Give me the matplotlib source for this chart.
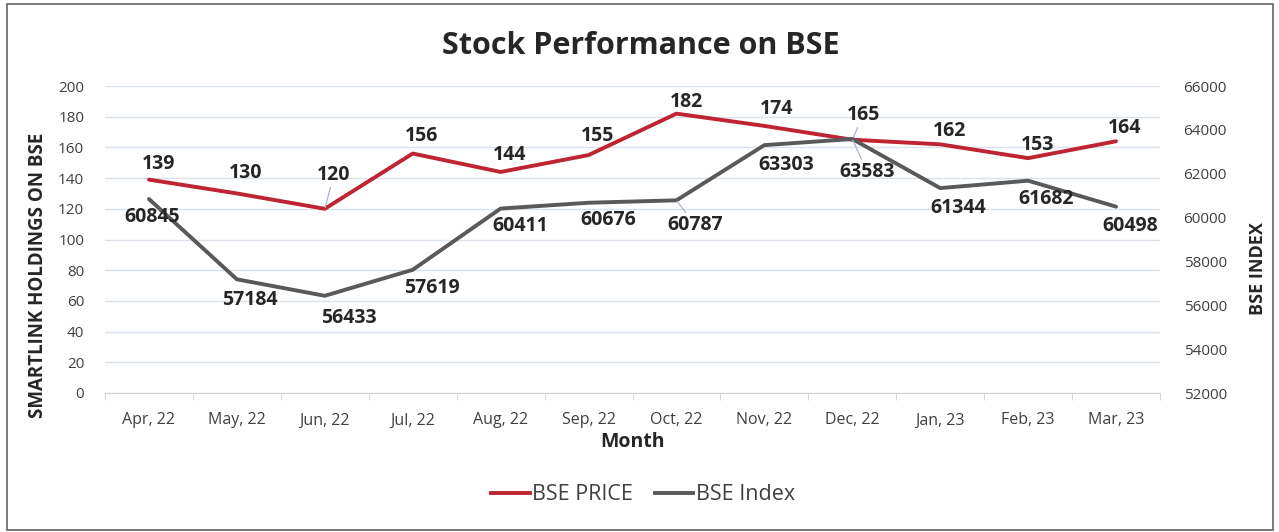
import matplotlib
matplotlib.use("Agg")
import matplotlib.pyplot as plt
from matplotlib.patches import Rectangle
from matplotlib.ticker import MultipleLocator, FixedLocator

plt.rcParams['font.family'] = ['Open Sans', 'DejaVu Sans']

months = ["Apr, 22", "May, 22", "Jun, 22", "Jul, 22", "Aug, 22", "Sep, 22",
          "Oct, 22", "Nov, 22", "Dec, 22", "Jan, 23", "Feb, 23", "Mar, 23"]
bse_price = [139, 130, 120, 156, 144, 155, 182, 174, 165, 162, 153, 164]
bse_index = [60845, 57184, 56433, 57619, 60411, 60676, 60787, 63303, 63583, 61344, 61682, 60498]

# label offsets in pixels (layout only)
price_off = [(10, 16), (9, 20), (9, 34), (9, 18), (9, 17), (9, 19),
             (10, 12), (12, 17), (11, 25), (9, 13), (9, 13), (9, 13)]
index_off = [(3, -18), (13, -21), (24, -22), (19, -18), (20, -17), (20, -17),
             (19, -25), (22, -20), (15, -33), (18, -20), (18, -18), (14, -19)]
price_leader = {2, 8}
index_leader = {6, 8}

RED = "#BE2432"
GREY = "#595959"
GRID = "#D9E1EA"
TXT = "#262626"

fig = plt.figure(figsize=(12.79, 5.32), dpi=100)
fig.patches.append(Rectangle((7 / 1279, 1 - 530 / 532), 1266 / 1279, 526 / 532,
                             transform=fig.transFigure, fill=False,
                             edgecolor="#6E6E6E", lw=1.3))

ax = fig.add_axes([105 / 1279, 1 - 393 / 532, 1055 / 1279, 307 / 532])
ax2 = ax.twinx()

x = list(range(len(months)))
ax.plot(x, bse_price, color=RED, lw=2.8, solid_capstyle='round', zorder=3)
ax2.plot(x, bse_index, color=GREY, lw=2.8, solid_capstyle='round', zorder=3)

ax.set_xlim(-0.5, len(months) - 0.5)
ax.set_ylim(0, 200)
ax2.set_ylim(52000, 66000)
ax.yaxis.set_major_locator(MultipleLocator(20))
ax2.yaxis.set_major_locator(MultipleLocator(2000))
ax.grid(axis='y', color=GRID, lw=1.0)
ax.set_axisbelow(True)

for a in (ax, ax2):
    for s in a.spines.values():
        s.set_visible(False)
ax.spines['bottom'].set_visible(True)
ax.spines['bottom'].set_color("#D0D0D0")

ax.set_xticks(x)
ax.set_xticklabels(months)
ax.xaxis.set_minor_locator(FixedLocator([i - 0.5 for i in range(len(months) + 1)]))
ax.tick_params(axis='x', which='major', length=0, pad=14, labelsize=11.5, labelcolor="#404040")
ax.tick_params(axis='x', which='minor', length=5, color="#D0D0D0", direction='out')
ax.tick_params(axis='y', length=0, pad=15, labelsize=11, labelcolor="#404040")
ax2.tick_params(axis='y', length=0, pad=17, labelsize=11, labelcolor="#404040")

for i, v in enumerate(bse_price):
    ap = dict(arrowstyle='-', color="#A9B7CA", lw=0.9, shrinkA=0, shrinkB=1) if i in price_leader else None
    ax.annotate(str(v), xy=(i, v), xytext=price_off[i], textcoords='offset pixels',
                ha='center', va='center', fontsize=14, fontweight='bold', color=TXT,
                arrowprops=ap, zorder=5)
for i, v in enumerate(bse_index):
    ap = dict(arrowstyle='-', color="#A9B7CA", lw=0.9, shrinkA=0, shrinkB=1) if i in index_leader else None
    ax2.annotate(str(v), xy=(i, v), xytext=index_off[i], textcoords='offset pixels',
                 ha='center', va='center', fontsize=14, fontweight='bold', color=TXT,
                 arrowprops=ap, zorder=5)

fig.text(641 / 1279, 1 - 46 / 532, "Stock Performance on BSE", ha='center', va='center',
         fontsize=22, fontweight='bold', color=TXT)
fig.text(633 / 1279, 1 - 442 / 532, "Month", ha='center', va='center',
         fontsize=14, fontweight='bold', color=TXT)
fig.text(38 / 1279, 1 - 275 / 532, "SMARTLINK HOLDINGS ON BSE", ha='center', va='center',
         rotation=90, fontsize=13.5, fontweight='bold', color=TXT)
fig.text(1258 / 1279, 1 - 269 / 532, "BSE INDEX", ha='center', va='center',
         rotation=90, fontsize=13, fontweight='bold', color=TXT)

h1, = ax.plot([], [], color=RED, lw=2.8, label="BSE PRICE")
h2, = ax.plot([], [], color=GREY, lw=2.8, label="BSE Index")
fig.legend(handles=[h1, h2], loc='center', bbox_to_anchor=(643 / 1279, 1 - 495 / 532),
           ncol=2, frameon=False, fontsize=15.5, handlelength=1.8, handletextpad=0.1,
           columnspacing=1.0, labelcolor="#404040")

fig.savefig("out.png", dpi=100)
